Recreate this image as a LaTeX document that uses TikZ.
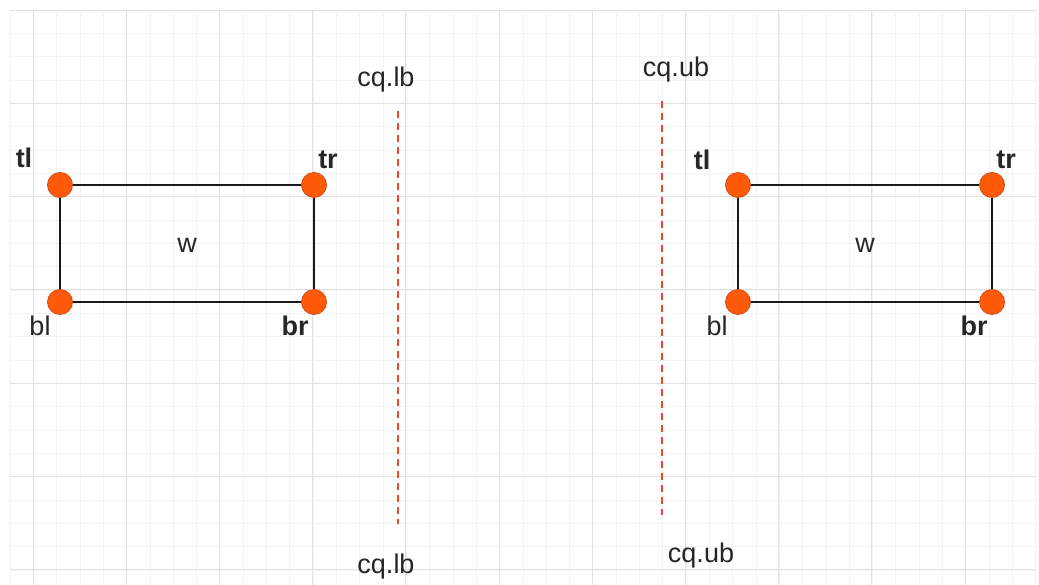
\documentclass[tikz,border=0pt]{standalone}
\usepackage{fontspec}
\setmainfont{Liberation Sans}
\definecolor{gridmajor}{HTML}{E2E2E2}
\definecolor{gridminor}{HTML}{F3F3F3}
\definecolor{dotfill}{HTML}{FF5A0A}
\definecolor{dotedge}{HTML}{D24A10}
\definecolor{bound}{HTML}{EA4A28}
\tikzset{
  corner/.style={circle, fill=dotfill, draw=dotedge, line width=0.8pt, minimum size=25pt, inner sep=0pt},
  edge/.style={line width=1.9pt, black!90},
  lab/.style={font=\fontsize{27}{27}\selectfont, inner sep=0pt, text=black!85},
  blab/.style={lab, font=\fontsize{27}{27}\selectfont\bfseries},
  boundline/.style={bound, line width=2.6pt, dash pattern=on 7pt off 5pt},
}
\begin{document}
\begin{tikzpicture}[x=1pt, y=-1pt]
\useasboundingbox (0,0) rectangle (1039,585);
\fill[white] (0,0) rectangle (1039,585);
% background grid: minor lines every quarter of a major cell
\foreach \i in {0,...,44} {
  \draw[gridminor, line width=0.6pt] ({10+23.31*\i},10) -- ({10+23.31*\i},585);
}
\foreach \j in {0,...,24} {
  \draw[gridminor, line width=0.6pt] (10,{10+23.33*\j}) -- (1036,{10+23.33*\j});
}
\foreach \i in {0,...,10} {
  \draw[gridmajor, line width=0.8pt] ({33+93.2*\i},10) -- ({33+93.2*\i},585);
}
\foreach \j in {0,...,6} {
  \draw[gridmajor, line width=0.8pt] (10,{10+93.3*\j}) -- (1036,{10+93.3*\j});
}

% left rectangle
\node[corner] (ltl) at (60,185) {};
\node[corner] (ltr) at (314,185) {};
\node[corner] (lbl) at (60,302) {};
\node[corner] (lbr) at (314,302) {};
\draw[edge] (ltl) -- (ltr);
\draw[edge] (ltr) -- (lbr);
\draw[edge] (lbr) -- (lbl);
\draw[edge] (lbl) -- (ltl);
\node[blab] (ltltxt) at (24,158) {tl};
\node[blab] (ltrtxt) at (328,160) {tr};
\node[lab]  (lbltxt) at (40,326) {bl};
\node[blab] (lbrtxt) at (295,326) {br};
\node[lab]  (lw) at (187,245) {w};

% right rectangle
\node[corner] (rtl) at (738,185) {};
\node[corner] (rtr) at (992,185) {};
\node[corner] (rbl) at (738,302) {};
\node[corner] (rbr) at (992,302) {};
\draw[edge] (rtl) -- (rtr);
\draw[edge] (rtr) -- (rbr);
\draw[edge] (rbr) -- (rbl);
\draw[edge] (rbl) -- (rtl);
\node[blab] (rtltxt) at (702,160) {tl};
\node[blab] (rtrtxt) at (1006,160) {tr};
\node[lab]  (rbltxt) at (717,326) {bl};
\node[blab] (rbrtxt) at (974,326) {br};
\node[lab]  (rw) at (865,245) {w};

% bounds
\coordinate (lbtop) at (398,111);
\coordinate (lbbot) at (398,524);
\coordinate (ubtop) at (662,101);
\coordinate (ubbot) at (662,515);
\draw[boundline] (lbtop) -- (lbbot);
\draw[boundline] (ubtop) -- (ubbot);
\node[lab] (lbt) at (386,80) {cq.lb};
\node[lab] (lbb) at (386,567) {cq.lb};
\node[lab] (ubt) at (676,70) {cq.ub};
\node[lab] (ubb) at (701,556) {cq.ub};
\end{tikzpicture}
\end{document}
